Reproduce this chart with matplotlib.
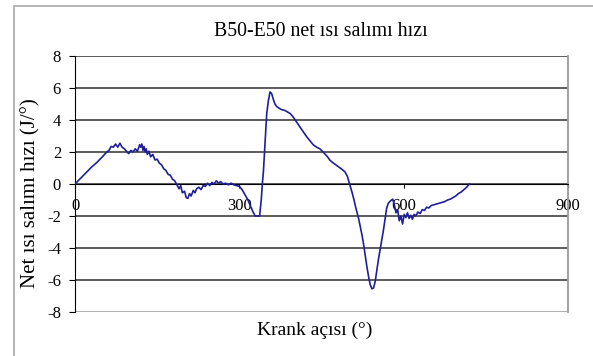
import matplotlib.pyplot as plt
from matplotlib.patches import Rectangle

# krank açısı (derece) ve net ısı salımı hızı (J/derece)
crank_angle = [
    0, 10, 20, 30, 40, 50, 58, 62, 66, 70, 74, 78, 82, 86, 90, 94, 98, 102,
    106, 110, 114, 118, 120, 122, 124, 126, 128, 130, 132, 135, 138, 142,
    146, 150, 154, 158, 162, 166, 170, 174, 178, 182, 186, 190, 193, 196,
    200, 203, 206, 209, 212, 216, 219, 222, 226, 230, 234, 238, 242, 246,
    250, 254, 258, 262, 266, 270, 275, 280, 285, 290, 295, 300, 305, 310,
    315, 320, 325, 329, 337, 340, 342, 344, 346, 348, 350, 353, 356, 359,
    362, 365, 368, 372, 377, 383, 388, 393, 398, 402, 407, 412, 417, 423,
    429, 435, 441, 447, 453, 457, 461, 465, 470, 476, 482, 488, 493, 497,
    500, 503, 506, 509, 512, 515, 518, 521, 524, 527, 530, 533, 536, 539,
    542, 545, 548, 551, 554, 557, 560, 563, 566, 569, 572, 576, 580, 583,
    586, 589, 592, 595, 598, 601, 604, 607, 610, 613, 616, 619, 622, 626,
    630, 634, 638, 642, 646, 650, 655, 660, 665, 670, 675, 680, 685, 690,
    695, 700, 705, 710, 715, 720,
]
heat_rate = [
    0.0, 0.35, 0.7, 1.05, 1.35, 1.7, 2.0, 2.1, 2.35, 2.3, 2.5, 2.3, 2.55,
    2.3, 2.2, 2.05, 1.9, 2.1, 2.0, 2.2, 2.05, 2.45, 2.3, 2.5, 2.1, 2.35,
    2.0, 2.2, 1.85, 2.05, 1.7, 1.85, 1.5, 1.55, 1.3, 1.2, 0.95, 0.85, 0.6,
    0.55, 0.3, 0.2, -0.05, -0.3, -0.1, -0.55, -0.45, -0.85, -0.9, -0.6,
    -0.75, -0.4, -0.55, -0.3, -0.2, -0.35, -0.1, -0.15, 0.05, -0.1, 0.1,
    0.0, 0.2, 0.05, 0.15, 0.0, 0.05, -0.05, 0.05, -0.05, -0.1, -0.15,
    -0.35, -0.65, -0.95, -1.35, -1.75, -2.0, -2.0, -1.0, 0.0, 0.8, 2.0,
    3.2, 4.4, 5.2, 5.75, 5.65, 5.3, 5.0, 4.85, 4.75, 4.65, 4.6, 4.5, 4.4,
    4.2, 4.0, 3.75, 3.5, 3.25, 2.95, 2.7, 2.45, 2.3, 2.2, 2.0, 1.85, 1.7,
    1.5, 1.35, 1.2, 1.05, 0.9, 0.75, 0.5, 0.15, -0.2, -0.55, -0.95, -1.4,
    -1.8, -2.2, -2.7, -3.2, -3.8, -4.5, -5.2, -5.8, -6.3, -6.55, -6.5,
    -6.1, -5.4, -4.7, -4.1, -3.5, -2.9, -2.2, -1.5, -1.2, -1.05, -0.95,
    -1.3, -1.8, -1.6, -2.3, -2.0, -2.5, -1.9, -2.1, -1.8, -2.15, -1.95,
    -2.2, -1.9, -2.0, -1.75, -1.85, -1.6, -1.65, -1.45, -1.5, -1.35, -1.3,
    -1.25, -1.2, -1.15, -1.1, -1.0, -0.95, -0.85, -0.75, -0.6, -0.5, -0.35,
    -0.2, 0.0,
]

x_ticks = [0, 300, 600, 900]
y_ticks = [-8, -6, -4, -2, 0, 2, 4, 6, 8]

plt.rcParams['font.family'] = ['Liberation Serif', 'DejaVu Serif']
plt.rcParams['axes.unicode_minus'] = False

W, H = 593, 356
fig = plt.figure(figsize=(W / 100, H / 100), dpi=100)
ax = fig.add_axes([75 / W, 1 - 312 / H, (568 - 75) / W, (312 - 56) / H])

# outer chart frame (only left/top edges fall inside the image)
fig.add_artist(Rectangle((13.5 / W, -0.1), 2, 1.1 - 5.5 / H, transform=fig.transFigure,
                         fill=False, edgecolor='#a8a8a8', lw=1.2))

ax.plot(crank_angle, heat_rate, color='#1f1f99', lw=1.2, zorder=3)

ax.set_xlim(0, 900)
ax.set_ylim(-8, 8)
ax.set_xticks(x_ticks)
ax.set_yticks(y_ticks)
ax.tick_params(axis='both', labelsize=12, colors='black', direction='out')
ax.tick_params(axis='x', length=3, pad=7)
ax.tick_params(axis='y', length=4, pad=6)

ax.yaxis.grid(True, color='#303030', lw=1.1)
ax.set_axisbelow(True)
ax.yaxis.get_gridlines()[0].set_color('#9a9a9a')

ax.spines['bottom'].set_position(('data', 0))
ax.spines['bottom'].set_color('black')
ax.spines['left'].set_color('black')
ax.spines['top'].set_visible(False)
ax.spines['right'].set_color('#9a9a9a')
ax.spines['right'].set_linewidth(1.3)

fig.text(321 / W, 1 - 31 / H, 'B50-E50 net ısı salımı hızı', ha='center', va='center', fontsize=14.3)
fig.text(315 / W, 1 - 330 / H, 'Krank açısı (°)', ha='center', va='center', fontsize=14)
fig.text(31 / W, 1 - 193 / H, 'Net ısı salımı hızı (J/°)', ha='center', va='center',
         rotation=90, fontsize=15)

fig.savefig('out.png', dpi=100)
